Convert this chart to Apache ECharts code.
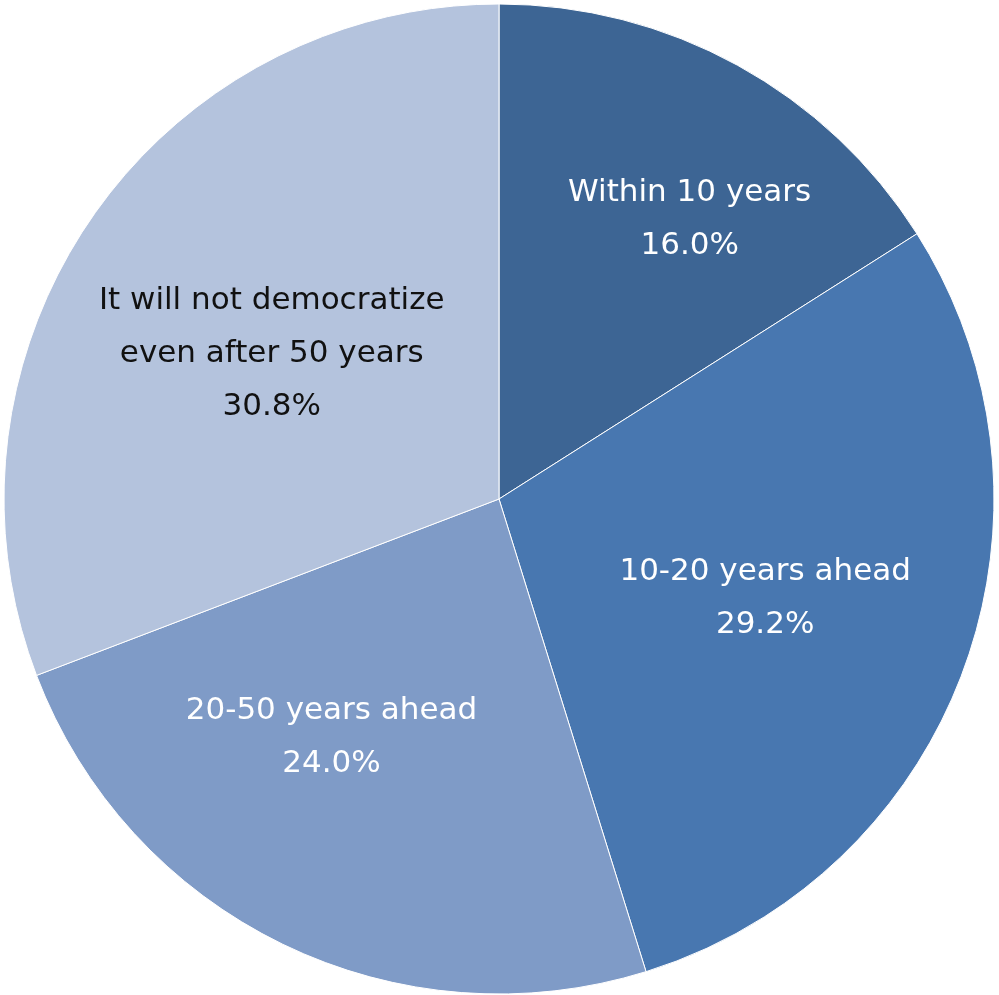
<!DOCTYPE html>
<html><head><meta charset="utf-8">
<script src="https://cdn.jsdelivr.net/npm/echarts@6/dist/echarts.min.js"></script>
<style>html,body{margin:0;padding:0;background:#fff}#c{width:999px;height:995px}</style>
</head><body><div id="c"></div>
<script>
const categories = ["Within 10 years", "10-20 years ahead", "20-50 years ahead", "It will not democratize\neven after 50 years"];
const values = [16.0, 29.2, 24.0, 30.8];
const colors = ["#3D6594", "#4877B0", "#7F9BC7", "#B4C3DD"];
const labelColors = ["#fff", "#fff", "#fff", "#111"];
const offsets = [[70, -60], [31, 13], [-58, 13], [-21, -3]];
const chart = echarts.init(document.getElementById('c'));
chart.setOption({
  animation: false,
  series: [{
    type: 'pie',
    center: [499, 499],
    radius: [0, 495],
    startAngle: 90,
    clockwise: true,
    itemStyle: { borderColor: '#fff', borderWidth: 1 },
    label: {
      position: 'inside',
      fontFamily: 'DejaVu Sans',
      fontSize: 31,
      lineHeight: 53,
      formatter: p => p.name + '\n' + p.value.toFixed(1) + '%'
    },
    labelLine: { show: false },
    emphasis: { disabled: true },
    data: categories.map((c, i) => ({
      name: c, value: values[i],
      itemStyle: { color: colors[i] },
      label: { color: labelColors[i], offset: offsets[i] }
    }))
  }]
});
</script></body></html>
